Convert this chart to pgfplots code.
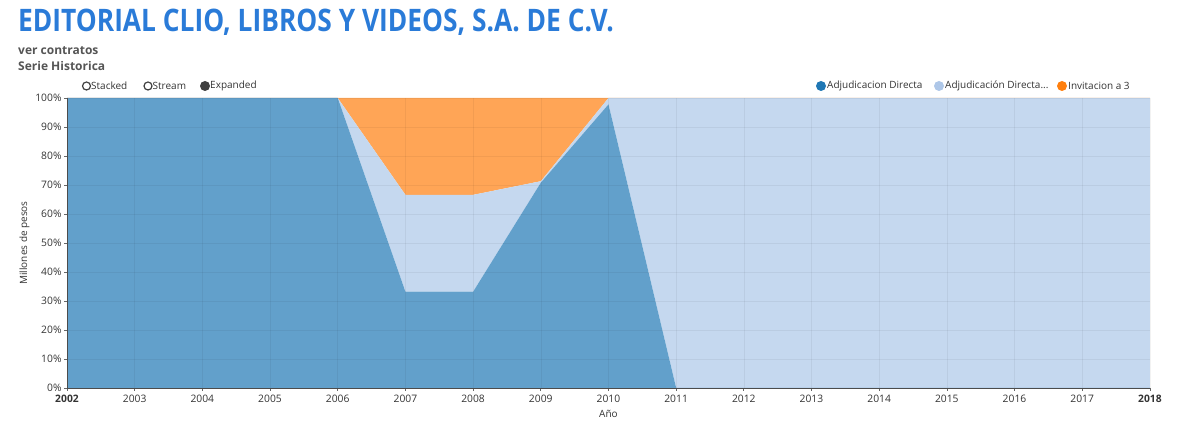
\documentclass[border=0pt]{standalone}
\usepackage{fontspec}
\setmainfont{Open Sans}
\newfontfamily\titlefont[FakeStretch=0.85]{Open Sans}
\usepackage{pgfplots}
\pgfplotsset{compat=1.18}
\definecolor{titleblue}{HTML}{2A7BD8}
\definecolor{cA}{HTML}{62A0CB}
\definecolor{cB}{HTML}{C5D8EF}
\definecolor{cC}{HTML}{FFA556}
\definecolor{lA}{HTML}{1F77B4}
\definecolor{lB}{HTML}{AEC7E8}
\definecolor{lC}{HTML}{FF7F0E}
\definecolor{txt}{HTML}{333333}
\definecolor{sub}{HTML}{555555}
\begin{document}
\begin{tikzpicture}
\path[use as bounding box] (0pt,0pt) rectangle (1200pt,422pt);
\node[anchor=base west, inner sep=0, font=\titlefont\fontsize{31}{34}\selectfont\bfseries, text=titleblue] at (18pt,390pt) {EDITORIAL CLIO, LIBROS Y VIDEOS, S.A. DE C.V.};
\node[anchor=base west, inner sep=0, font=\fontsize{12}{14}\selectfont\bfseries, text=sub] at (18pt,367pt) {ver contratos};
\node[anchor=base west, inner sep=0, font=\fontsize{12}{14}\selectfont\bfseries, text=sub] at (18pt,351pt) {Serie Historica};
% radio options
\begin{scope}[font=\fontsize{10}{12}\selectfont, text=txt]
\draw[line width=1.2pt, black!75] (86.5pt,336pt) circle (4pt);
\node[anchor=west, inner sep=0] at (91pt,336pt) {Stacked};
\draw[line width=1.2pt, black!75] (148pt,336pt) circle (4pt);
\node[anchor=west, inner sep=0] at (152.5pt,336pt) {Stream};
\fill[black!75] (205pt,336pt) circle (5pt);
\node[anchor=west, inner sep=0] at (210pt,336pt) {Expanded};
% series legend
\fill[lA] (821pt,336pt) circle (5pt);
\node[anchor=west, inner sep=0] at (827pt,336pt) {Adjudicacion Directa};
\fill[lB] (939pt,336pt) circle (5pt);
\node[anchor=west, inner sep=0] at (945pt,336pt) {Adjudicación Directa...};
\fill[lC] (1062pt,336pt) circle (5pt);
\node[anchor=west, inner sep=0] at (1068pt,336pt) {Invitacion a 3};
\end{scope}
\begin{axis}[
  at={(67pt,34pt)}, anchor=south west, scale only axis,
  width=1083pt, height=290pt,
  xmin=2002, xmax=2018, ymin=0, ymax=100,
  stack plots=y,
  axis on top,
  axis x line*=bottom, axis y line*=left,
  axis line style={black!70, line width=0.8pt, -},
  xtick={2002,...,2018},
  xticklabels={\textbf{2002},2003,2004,2005,2006,2007,2008,2009,2010,2011,2012,2013,2014,2015,2016,2017,\textbf{2018}},
  ytick={0,10,...,100},
  yticklabels={0\%,10\%,20\%,30\%,40\%,50\%,60\%,70\%,80\%,90\%,100\%},
  tick label style={font=\fontsize{10.3}{12}\selectfont, text=txt},
  yticklabel style={xshift=1pt},
  xticklabel style={yshift=-1pt},
  tick align=outside, major tick length=3pt,
  tick style={black!60, line width=0.6pt},
  grid=major,
  major grid style={black, opacity=0.05, line width=0.5pt},
  xlabel={Año}, ylabel={Millones de pesos},
  label style={font=\fontsize{10}{12}\selectfont, text=txt},
  xlabel style={at={(axis description cs:0.5,0)}, anchor=north, yshift=-19pt},
  ylabel style={at={(axis description cs:0,0.5)}, anchor=south, yshift=34pt},
]
\addplot[fill=cA, draw=none] coordinates {
(2002,100) (2003,100) (2004,100) (2005,100) (2006,100) (2007,33.2) (2008,33.2) (2009,70.8) (2010,97.8) (2011,0) (2012,0) (2013,0) (2014,0) (2015,0) (2016,0) (2017,0) (2018,0)} \closedcycle;
\addplot[fill=cB, draw=none] coordinates {
(2002,0) (2003,0) (2004,0) (2005,0) (2006,0) (2007,33.4) (2008,33.4) (2009,0.5) (2010,2.2) (2011,100) (2012,100) (2013,100) (2014,100) (2015,100) (2016,100) (2017,100) (2018,100)} \closedcycle;
\addplot[fill=cC, draw=none] coordinates {
(2002,0) (2003,0) (2004,0) (2005,0) (2006,0) (2007,33.4) (2008,33.4) (2009,28.7) (2010,0) (2011,0) (2012,0) (2013,0) (2014,0) (2015,0) (2016,0) (2017,0) (2018,0)} \closedcycle;
\end{axis}
\end{tikzpicture}
\end{document}
